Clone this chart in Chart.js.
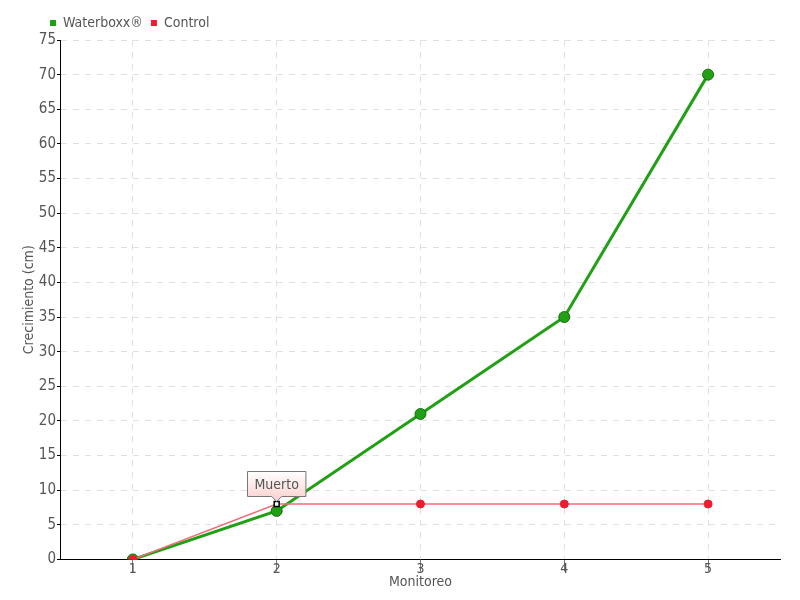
<!DOCTYPE html>
<html>
<head>
<meta charset="utf-8">
<script src="https://cdn.jsdelivr.net/npm/chart.js@4/dist/chart.umd.min.js"></script>
<style>
  html, body { margin: 0; padding: 0; background: #fff; }
  #wrap { width: 800px; height: 600px; }
</style>
</head>
<body>
<div id="wrap"><canvas id="chart" width="800" height="600"></canvas></div>
<script>
// Growth per monitoring round
const monitoreo = ['1', '2', '3', '4', '5'];
const waterboxx = [0, 7, 21, 35, 70];
const control = [0, 8, 8, 8, 8];
// Note shown on the control series
const noteIndex = 1;
const noteText = 'Muerto';

const FONT = "'DejaVu Sans Condensed', 'DejaVu Sans', sans-serif";

// Draws the "Muerto" callout above the control point
const notePlugin = {
  id: 'note',
  afterDatasetsDraw(chart) {
    const ctx = chart.ctx;
    const x = chart.scales.x.getPixelForValue(noteIndex);
    const y = chart.scales.y.getPixelForValue(control[noteIndex]);
    ctx.save();
    ctx.font = '14px ' + FONT;
    const w = ctx.measureText(noteText).width + 14;
    const h = 25;
    const bx = Math.round(x - w / 2) + 0.5;
    const by = Math.round(y - 8 - h) + 0.5;
    const grad = ctx.createLinearGradient(0, by, 0, by + h);
    grad.addColorStop(0, '#ffffff');
    grad.addColorStop(1, '#fcd6d6');
    ctx.beginPath();
    ctx.moveTo(bx, by);
    ctx.lineTo(bx + w, by);
    ctx.lineTo(bx + w, by + h);
    ctx.lineTo(x + 5, by + h);
    ctx.lineTo(x, by + h + 5);
    ctx.lineTo(x - 5, by + h);
    ctx.lineTo(bx, by + h);
    ctx.closePath();
    ctx.fillStyle = grad;
    ctx.fill();
    ctx.strokeStyle = '#777';
    ctx.lineWidth = 1;
    ctx.stroke();
    ctx.fillStyle = '#555';
    ctx.textAlign = 'center';
    ctx.textBaseline = 'middle';
    ctx.fillText(noteText, x, by + h / 2 + 1);
    ctx.restore();
  }
};

// Shifts the legend to the right like the original
const legendShift = {
  id: 'legendShift',
  afterLayout(chart) {
    chart.legend.left += 21;
    chart.legend.right += 21;
  }
};

const ctx = document.getElementById('chart').getContext('2d');
new Chart(ctx, {
  type: 'line',
  data: {
    labels: monitoreo,
    datasets: [
      {
        label: 'Waterboxx®',
        data: waterboxx,
        borderColor: '#22a015',
        backgroundColor: '#22a015',
        borderWidth: 3,
        pointRadius: 5.5,
        pointBackgroundColor: '#22a015',
        pointBorderColor: '#17700e',
        pointBorderWidth: 1,
        tension: 0,
        order: 1
      },
      {
        label: 'Control',
        data: control,
        borderColor: '#f26b7a',
        backgroundColor: '#ee1c2e',
        borderWidth: 1.5,
        pointRadius: [4, 3.5, 4, 4, 4],
        pointStyle: ['circle', 'rect', 'circle', 'circle', 'circle'],
        pointBackgroundColor: ['#ee1c2e', '#ffffff', '#ee1c2e', '#ee1c2e', '#ee1c2e'],
        pointBorderColor: ['#ee1c2e', '#000000', '#ee1c2e', '#ee1c2e', '#ee1c2e'],
        pointBorderWidth: [1, 1.5, 1, 1, 1],
        tension: 0,
        order: 0
      }
    ]
  },
  options: {
    responsive: false,
    animation: false,
    layout: { padding: { left: 21, right: 20, top: 8, bottom: 9 } },
    plugins: {
      legend: {
        display: true,
        align: 'start',
        labels: {
          boxWidth: 6,
          boxHeight: 6,
          padding: 8,
          color: '#555',
          font: { family: FONT, size: 14 },
          generateLabels(chart) {
            return chart.data.datasets.map((d, i) => ({
              text: d.label,
              fillStyle: i === 0 ? '#22a015' : '#ee1c2e',
              strokeStyle: i === 0 ? '#22a015' : '#ee1c2e',
              lineWidth: 0,
              datasetIndex: i,
              fontColor: '#555'
            }));
          }
        }
      },
      tooltip: { enabled: false }
    },
    scales: {
      x: {
        offset: true,
        grid: {
          offset: false,
          color: '#e0e0e0',
          tickColor: '#777',
          tickLength: 12
        },
        border: { color: '#000', width: 1, dash: [6, 6] },
        ticks: { color: '#555', font: { family: FONT, size: 14 }, padding: -10 },
        title: {
          display: true,
          text: 'Monitoreo',
          color: '#555',
          font: { family: FONT, size: 14 },
          padding: { top: 6, bottom: 0 }
        }
      },
      y: {
        min: 0,
        max: 75,
        grid: {
          color: '#e0e0e0',
          tickColor: '#000',
          tickLength: 4
        },
        border: { color: '#000', width: 1, dash: [6, 6] },
        ticks: { stepSize: 5, color: '#555', font: { family: FONT, size: 15 }, padding: 1 },
        title: {
          display: true,
          text: 'Crecimiento (cm)',
          color: '#555',
          font: { family: FONT, size: 14 },
          padding: { top: 0, bottom: 0 }
        }
      }
    }
  },
  plugins: [notePlugin, legendShift]
});
</script>
</body>
</html>
